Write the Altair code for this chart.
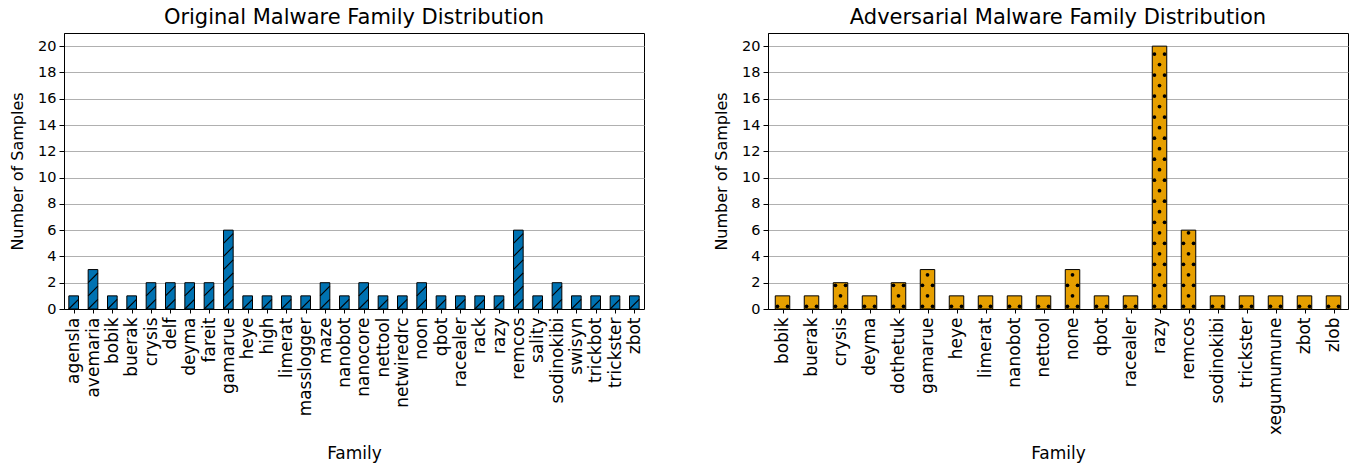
import altair as alt
import pandas as pd
import numpy as np

orig_families = ["agensla", "avemaria", "bobik", "buerak", "crysis", "delf", "deyma", "fareit",
                 "gamarue", "heye", "high", "limerat", "masslogger", "maze", "nanobot", "nanocore",
                 "nettool", "netwiredrc", "noon", "qbot", "racealer", "rack", "razy", "remcos",
                 "sality", "sodinokibi", "swisyn", "trickbot", "trickster", "zbot"]
orig_counts = [1, 3, 1, 1, 2, 2, 2, 2, 6, 1, 1, 1, 1, 2, 1, 2, 1, 1, 2, 1, 1, 1, 1, 6, 1, 2, 1, 1, 1, 1]

adv_families = ["bobik", "buerak", "crysis", "deyma", "dothetuk", "gamarue", "heye", "limerat",
                "nanobot", "nettool", "none", "qbot", "racealer", "razy", "remcos", "sodinokibi",
                "trickster", "xegumumune", "zbot", "zlob"]
adv_counts = [1, 1, 2, 1, 2, 3, 1, 1, 1, 1, 3, 1, 1, 20, 6, 1, 1, 1, 1, 1]

BLUE = "#0072B2"
ORANGE = "#E69F00"
FONT = "DejaVu Sans"
HALF = 0.25  # half bar width in category units (pandas width=0.5)


def bars_df(fams, vals):
    idx = np.arange(len(fams))
    return pd.DataFrame({"family": fams, "i": idx, "x0": idx - HALF, "x1": idx + HALF,
                         "base": 0, "count": vals})


def hatch_df(vals, rise=0.74, spacing=1.0):
    rows = []
    for i, v in enumerate(vals):
        k = -1.0
        while k < v:
            y0, y1 = k, k + rise
            cy0, cy1 = max(y0, 0.0), min(y1, float(v))
            if cy1 > cy0:
                xa = i - HALF + (cy0 - y0) / rise * 2 * HALF
                xb = i - HALF + (cy1 - y0) / rise * 2 * HALF
                rows.append({"xa": xa, "xb": xb, "ya": cy0, "yb": cy1})
            k += spacing
    return pd.DataFrame(rows)


def dots_df(vals, step=0.8, start=0.2):
    rows = []
    for i, v in enumerate(vals):
        j = 0
        while start + step * j < v - 0.08:
            y = start + step * j
            if j % 2 == 0:
                for f in (0.15, 0.85):
                    rows.append({"x": i - HALF + 2 * HALF * f, "y": y})
            else:
                rows.append({"x": float(i), "y": y})
            j += 1
    return pd.DataFrame(rows)


def label_expr(fams):
    arr = ",".join("'" + f + "'" for f in fams)
    return "[" + arr + "][datum.value]"


def panel(fams, vals, color, title, kind, xtitle_pad):
    n = len(fams)
    xscale = alt.Scale(domain=[-0.5, n - 0.5], nice=False, zero=False)
    yscale = alt.Scale(domain=[0, 21], nice=False)
    xaxis = alt.Axis(values=list(range(n)), labelExpr=label_expr(fams), labelAngle=270,
                     labelOverlap=False, labelFlush=False, grid=False, title="Family",
                     labelFontSize=17, titleFontSize=17, tickSize=4, labelPadding=4,
                     titlePadding=xtitle_pad, labelBound=False)
    yaxis = alt.Axis(values=list(range(0, 21, 2)), grid=True, gridColor="#b0b0b0",
                     gridWidth=1, title="Number of Samples", labelFontSize=14.5,
                     labelOverlap=False, labelFlush=False,
                     titleFontSize=16, tickSize=5, labelPadding=3, titlePadding=12)
    bd = bars_df(fams, vals)
    bars = alt.Chart(bd).mark_bar(color=color, stroke="black", strokeWidth=1).encode(
        x=alt.X("x0:Q", scale=xscale, axis=xaxis),
        x2="x1:Q",
        y=alt.Y("count:Q", scale=yscale, axis=yaxis),
        y2="base:Q",
    )
    if kind == "hatch":
        hd = hatch_df(vals)
        deco = alt.Chart(hd).mark_rule(color="black", strokeWidth=1.1).encode(
            x=alt.X("xa:Q", scale=xscale, axis=xaxis), x2="xb:Q",
            y=alt.Y("ya:Q", scale=yscale, axis=yaxis), y2="yb:Q")
    else:
        dd = dots_df(vals)
        deco = alt.Chart(dd).mark_point(filled=True, color="black", size=14, opacity=1).encode(
            x=alt.X("x:Q", scale=xscale, axis=xaxis), y=alt.Y("y:Q", scale=yscale, axis=yaxis))
    return alt.layer(bars, deco).properties(
        width=580, height=276,
        title=alt.TitleParams(title, fontSize=21, fontWeight="normal", font=FONT, offset=5))


left = panel(orig_families, orig_counts, BLUE, "Original Malware Family Distribution", "hatch", 30)
right = panel(adv_families, adv_counts, ORANGE, "Adversarial Malware Family Distribution", "dots", 11)

chart = alt.hconcat(left, right, spacing=68).properties(
    padding={"left": 9, "top": 6, "right": 2, "bottom": 0}
).configure(font=FONT).configure_view(stroke="black", strokeWidth=1).configure_axis(
    domainColor="black", tickColor="black", labelColor="black", titleColor="black",
    labelFont=FONT, titleFont=FONT, titleFontWeight="normal"
)

chart.save("out.html", embed_options={"renderer": "svg", "actions": False})
